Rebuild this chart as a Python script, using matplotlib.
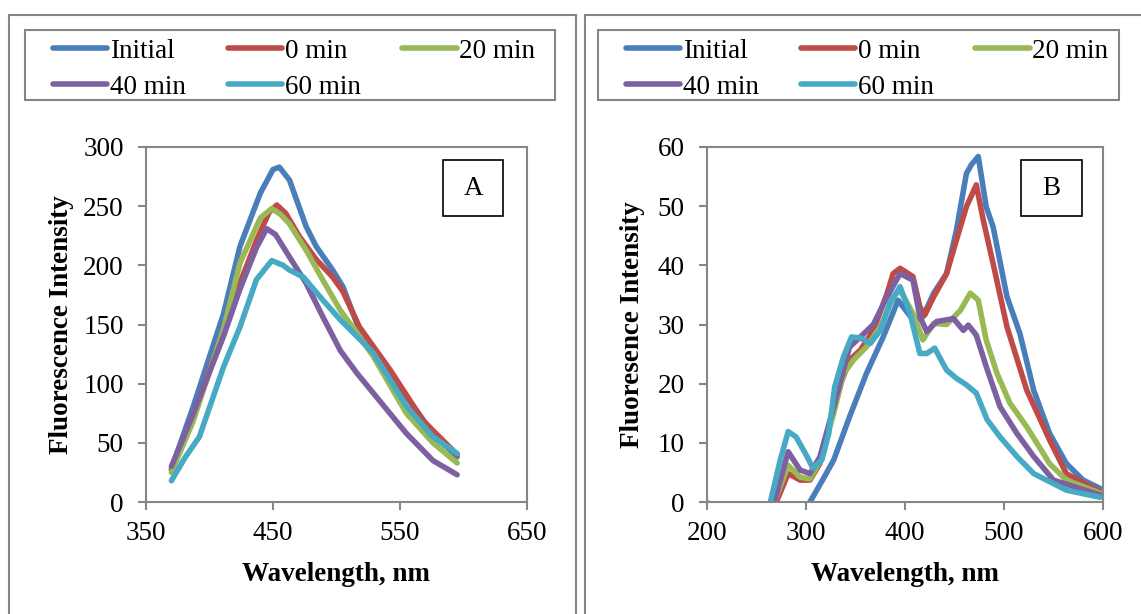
import matplotlib.pyplot as plt
from matplotlib.patches import Rectangle
from matplotlib.lines import Line2D

plt.rcParams["font.family"] = ["Liberation Serif", "DejaVu Serif"]

series_names = ["Initial", "0 min", "20 min", "40 min", "60 min"]
series_colors = ["#4A7EBB", "#BE4B48", "#98B954", "#7D60A0", "#46AAC5"]

# panel A: fluorescence (wavelength, intensity)
a_initial_x = [370, 387, 411, 424, 440, 450, 455, 463, 476, 484, 497, 505, 516, 529, 555, 576, 595]
a_initial_y = [28, 80, 159, 216, 261, 281, 283, 272, 233, 216, 196, 182, 151, 128, 89, 58, 38]
a_0min_x = [370, 387, 411, 424, 437, 447, 453, 460, 471, 484, 497, 505, 518, 542, 568, 595]
a_0min_y = [27, 72, 145, 185, 221, 245, 251, 244, 224, 205, 190, 178, 148, 112, 69, 40]
a_20min_x = [370, 387, 411, 424, 440, 449, 456, 463, 476, 489, 503, 516, 529, 555, 576, 595]
a_20min_y = [25, 68, 146, 202, 240, 248, 243, 235, 213, 188, 162, 143, 123, 75, 50, 33]
a_40min_x = [370, 387, 411, 424, 437, 445, 452, 463, 476, 489, 503, 516, 529, 555, 576, 595]
a_40min_y = [30, 74, 140, 180, 215, 231, 226, 207, 185, 157, 128, 109, 92, 58, 35, 23]
a_60min_x = [370, 381, 392, 411, 424, 437, 449, 458, 463, 474, 489, 503, 529, 555, 576, 595]
a_60min_y = [18, 38, 55, 114, 148, 188, 204, 200, 196, 190, 171, 154, 126, 81, 55, 41]

# panel B
b_initial_x = [300, 304, 316, 328, 344, 361, 378, 393, 408, 418, 429, 442, 452, 462, 467, 474, 482, 489, 503, 516, 530, 546, 563, 580, 597]
b_initial_y = [-1, 0, 3.5, 7.1, 14.4, 21.7, 27.9, 34.1, 30.8, 31.3, 35.3, 38.6, 46, 55.5, 57, 58.4, 49.9, 46.5, 34.7, 28.5, 18.9, 11.6, 6.5, 3.7, 2.3]
b_0min_x = [267, 270, 282, 294, 304, 314, 324, 334, 344, 355, 368, 382, 388, 395, 408, 415, 420, 429, 442, 452, 462, 472, 479, 489, 503, 523, 546, 563, 597]
b_0min_y = [-2, 0, 4.8, 3.7, 3.7, 6.5, 13.3, 19.5, 24, 25.7, 29, 35.3, 38.6, 39.5, 38.1, 33, 31.6, 34.7, 38.6, 44.3, 49.9, 53.6, 47.7, 40.3, 29.6, 18.9, 10.5, 4.8, 1.7]
b_20min_x = [200, 204, 265, 268, 282, 294, 304, 314, 328, 338, 348, 361, 375, 388, 395, 408, 418, 429, 442, 456, 466, 474, 482, 493, 506, 523, 546, 563, 597]
b_20min_y = [0, -4, -4, 0, 6.2, 4.2, 3.9, 6.9, 15, 21.7, 24, 26.2, 29.6, 34.7, 35.8, 31.9, 27.4, 30.2, 30, 32.4, 35.3, 34.1, 27.4, 21.7, 16.7, 12.7, 6.5, 3.7, 1.5]
b_40min_x = [265, 268, 282, 294, 304, 314, 328, 344, 355, 368, 382, 395, 408, 415, 422, 432, 449, 459, 464, 472, 482, 496, 513, 530, 550, 597]
b_40min_y = [-2, 0, 8.5, 5.4, 4.8, 7.6, 16.1, 26.2, 27.9, 30, 34.7, 38.6, 37.5, 31.3, 28.8, 30.5, 31, 29, 29.9, 28.2, 22.9, 16.1, 11.6, 7.7, 3.7, 1.2]
b_60min_x = [262, 264, 274, 282, 290, 301, 307, 316, 323, 329, 338, 346, 355, 365, 375, 385, 395, 405, 415, 422, 430, 442, 452, 462, 472, 483, 496, 513, 530, 563, 597]
b_60min_y = [-2, 0, 7.1, 11.9, 11, 7.7, 5.7, 7.1, 11.6, 19.5, 24.6, 27.9, 27.7, 26.8, 29, 33.6, 36.4, 31.9, 25.1, 25.1, 26, 22.3, 20.9, 19.8, 18.4, 13.9, 11, 7.7, 4.8, 2, 0.8]

panel_a = [(a_initial_x, a_initial_y), (a_0min_x, a_0min_y), (a_20min_x, a_20min_y),
           (a_40min_x, a_40min_y), (a_60min_x, a_60min_y)]
panel_b = [(b_initial_x, b_initial_y), (b_0min_x, b_0min_y), (b_20min_x, b_20min_y),
           (b_40min_x, b_40min_y), (b_60min_x, b_60min_y)]

W, H = 1141, 614
fig = plt.figure(figsize=(W / 100, H / 100), dpi=100)
gray = "#868686"
fs = 19.5
lw = 4.0


def fx(px):
    return px / W


def fy(py):
    return 1 - py / H


# outer frames
fig.patches.append(Rectangle((fx(9), fy(640)), fx(576 - 9), fy(15) - fy(640),
                             transform=fig.transFigure, fill=False, ec=gray, lw=1.5))
fig.patches.append(Rectangle((fx(585), fy(640)), fx(1170 - 585), fy(15) - fy(640),
                             transform=fig.transFigure, fill=False, ec=gray, lw=1.5))

# legend fills columns first; reorder so it reads row by row like the original
leg_order = [0, 3, 1, 4, 2]


def draw_panel(rect, data, xlim, xticks, ylim, yticks, ylabel, letter, box, ylab_x, leg_box):
    ax = fig.add_axes(rect)
    for (x, y), c in zip(data, series_colors):
        ax.plot(x, y, color=c, lw=lw, solid_capstyle="round", solid_joinstyle="round")
    ax.set_xlim(*xlim)
    ax.set_ylim(*ylim)
    ax.set_xticks(xticks)
    ax.set_yticks(yticks)
    for s in ax.spines.values():
        s.set_color(gray)
        s.set_linewidth(1.5)
    ax.tick_params(direction="out", length=6, width=1.5, color=gray, labelsize=fs, pad=8)
    ax.tick_params(axis="y", pad=10)
    ax.set_xlabel("Wavelength, nm", fontsize=fs, fontweight="bold")
    ax.set_ylabel(ylabel, fontsize=fs, fontweight="bold")
    ax.xaxis.set_label_coords(0.5, -0.17)
    ax.yaxis.set_label_coords(ylab_x, 0.5)
    x0, x1, y0, y1 = box
    ax.add_patch(Rectangle((x0, y0), x1 - x0, y1 - y0, transform=ax.transAxes,
                           fill=False, ec="black", lw=1.2))
    ax.text((x0 + x1) / 2, (y0 + y1) / 2, letter, transform=ax.transAxes,
            ha="center", va="center", fontsize=fs)

    lx0, lx1 = leg_box
    fig.patches.append(Rectangle((fx(lx0), fy(100)), fx(lx1 - lx0), fy(30) - fy(100),
                                 transform=fig.transFigure, fill=False, ec=gray, lw=1.5))
    handles = [Line2D([], [], color=series_colors[i], lw=lw, solid_capstyle="round")
               for i in leg_order]
    labels = [series_names[i] for i in leg_order]
    fig.legend(handles, labels, loc="upper left",
               bbox_to_anchor=(fx(lx0 + 9), fy(20)), ncol=3, frameon=False,
               fontsize=fs, handlelength=2.0, handletextpad=0.1, columnspacing=1.55,
               labelspacing=0.4, borderpad=0.2)
    return ax


draw_panel([fx(146), fy(502), fx(527 - 146), fy(147) - fy(502)], panel_a,
           (350, 650), [350, 450, 550, 650], (0, 300), range(0, 301, 50),
           "Fluorescence Intensity", "A", (0.78, 0.937, 0.806, 0.963), -0.19, (25, 555))
draw_panel([fx(707), fy(502), fx(1103 - 707), fy(147) - fy(502)], panel_b,
           (200, 600), [200, 300, 400, 500, 600], (0, 60), range(0, 61, 10),
           "Fluoresence Intensity", "B", (0.793, 0.946, 0.806, 0.963), -0.157, (598, 1119))

fig.savefig("out.png", dpi=100)
